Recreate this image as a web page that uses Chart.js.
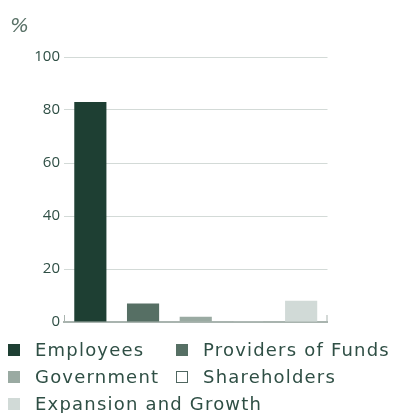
<!DOCTYPE html>
<html>
<head>
<meta charset="utf-8">
<style>
    html, body { margin: 0; padding: 0; background: #ffffff; }
    #wrap { width: 393px; height: 413px; position: relative; }
</style>
<script src="https://cdn.jsdelivr.net/npm/chart.js@4.4.1/dist/chart.umd.min.js"></script>
</head>
<body>
<div id="wrap"><canvas id="shareChart"></canvas></div>
<script>
const categories = ["Employees", "Providers of Funds", "Government", "Shareholders", "Expansion and Growth"];
const shareValues = [83, 7, 2, 0.3, 8];
const barColors = ["#1e3f33", "#566f64", "#9aaaa2", "#ffffff", "#d1dad7"];
const barBorders = ["#1e3f33", "#566f64", "#9aaaa2", "#7b8b84", "#d1dad7"];
const yTicks = [0, 20, 40, 60, 80, 100];

const TEXT_COLOR = "#2f4f45";

// legend drawn as a fixed two-column grid under the plot, plus the "%" unit and axis end caps
const gridLegend = {
    id: "gridLegend",
    afterDraw(chart) {
        const ctx = chart.ctx;
        const area = chart.chartArea;
        ctx.save();

        ctx.fillStyle = "#5a7268";
        ctx.font = "italic 20px 'DejaVu Sans'";
        ctx.textBaseline = "alphabetic";
        ctx.fillText("%", 10, 32);

        ctx.strokeStyle = "#a9b4af";
        ctx.lineWidth = 1;
        [area.left + 0.5, area.right - 0.5].forEach((x) => {
            ctx.beginPath();
            ctx.moveTo(x, area.bottom - 7);
            ctx.lineTo(x, area.bottom);
            ctx.stroke();
        });

        const colX = [8, 176];
        const rowY = [350, 377, 404];
        const order = [[0, 1], [2, 3], [4]];
        ctx.font = "18px 'DejaVu Sans'";
        ctx.letterSpacing = "1.2px";
        ctx.textBaseline = "middle";
        order.forEach((row, r) => {
            row.forEach((idx, c) => {
                const x = colX[c];
                const y = rowY[r];
                if (idx === 3) {
                    ctx.fillStyle = "#ffffff";
                    ctx.fillRect(x, y - 6, 12, 12);
                    ctx.strokeStyle = "#4f6660";
                    ctx.strokeRect(x + 0.5, y - 5.5, 11, 11);
                } else {
                    ctx.fillStyle = barColors[idx];
                    ctx.fillRect(x, y - 6, 12, 12);
                }
                ctx.fillStyle = TEXT_COLOR;
                ctx.fillText(categories[idx], x + 27, y + 1);
            });
        });
        ctx.restore();
    },
};

const chart = new Chart(document.getElementById("shareChart"), {
    type: "bar",
    data: {
        labels: categories,
        datasets: [
            {
                label: "Share",
                data: shareValues,
                backgroundColor: barColors,
                borderColor: barBorders,
                borderWidth: (c) => (c.dataIndex === 3 ? 1 : 0),
                barPercentage: 0.61,
                categoryPercentage: 1,
            },
        ],
    },
    options: {
        responsive: true,
        maintainAspectRatio: false,
        animation: false,
        layout: {
            padding: { left: 0, right: 65.5, top: 57, bottom: 83 },
        },
        plugins: {
            legend: { display: false },
            tooltip: { enabled: false },
            title: { display: false },
        },
        scales: {
            x: {
                grid: { display: false },
                ticks: { display: false },
                border: { display: true, color: "#a9b4af", width: 2 },
            },
            y: {
                min: 0,
                max: 100,
                afterBuildTicks: (scale) => {
                    scale.ticks = yTicks.map((v) => ({ value: v }));
                },
                afterFit: (scale) => {
                    scale.width = 64;
                },
                grid: { color: "#d3dad7", lineWidth: 1, drawTicks: false },
                border: { display: false },
                ticks: {
                    color: TEXT_COLOR,
                    padding: 4,
                    font: { family: "'Open Sans'", size: 15 },
                },
            },
        },
    },
    plugins: [gridLegend],
});
</script>
</body>
</html>
